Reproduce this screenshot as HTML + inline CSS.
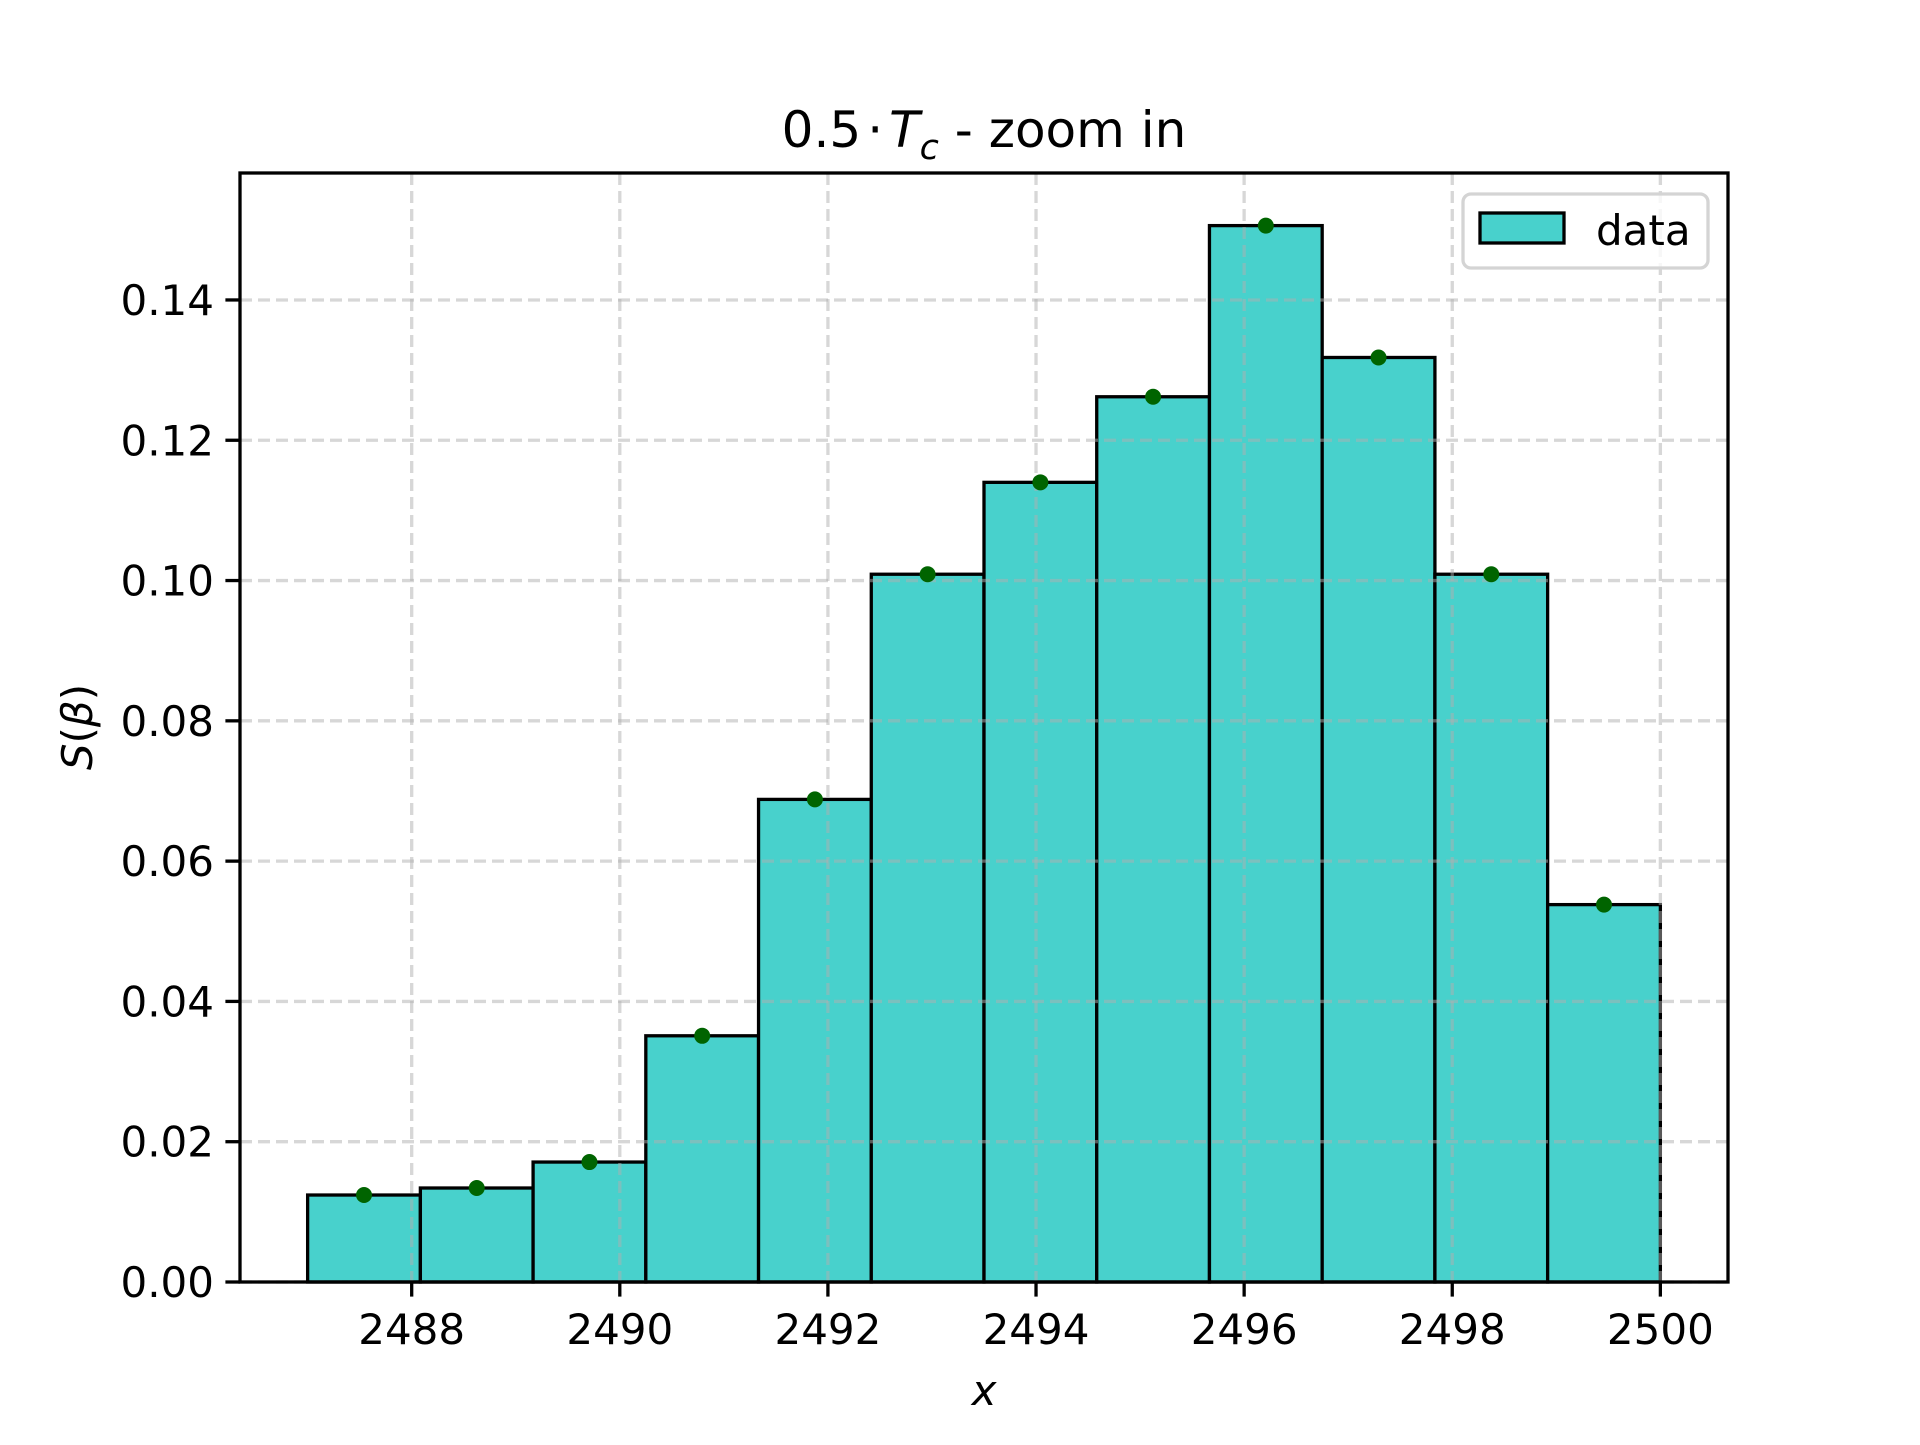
<!DOCTYPE html>
<html><head><meta charset="utf-8"><style>
html,body{margin:0;padding:0;background:#fff;}
svg text{font-family:"DejaVu Sans","Liberation Sans",sans-serif;}
</style></head><body>
<svg id="chart" width="1920" height="1440" viewBox="0 0 1920 1440" xmlns="http://www.w3.org/2000/svg">
<rect width="1920" height="1440" fill="#fff"/>
<g id="bars"></g>
<g id="grid"></g>
<g id="dots"></g>
<g id="axes"></g>
<text x="984" y="147" font-size="50" text-anchor="middle">0.5<tspan dx="6">·</tspan><tspan dx="6" font-style="italic">T</tspan><tspan font-style="italic" font-size="35" dy="12">c</tspan><tspan dy="-12"> - zoom in</tspan></text>
<text x="984" y="1405" font-size="42" font-style="italic" text-anchor="middle">x</text>
<text transform="translate(92,727) rotate(-90)" font-size="42" text-anchor="middle"><tspan font-style="italic">S</tspan>(<tspan font-style="italic">β</tspan>)</text>
<g>
<rect x="1463" y="194" width="245" height="74" rx="8" fill="#fff" fill-opacity="0.8" stroke="#d4d4d4" stroke-width="3.3"/>
<rect x="1480" y="213" width="84" height="30" fill="#48d1cc" stroke="#000" stroke-width="3.3"/>
<text x="1596" y="245" font-size="42">data</text>
</g>
</svg>
<script>
const binEdgeStart = 2487.0;
const binEdgeEnd = 2500.0;
const values = [0.0124, 0.0134, 0.0171, 0.0351, 0.0688, 0.1009, 0.1140, 0.1262, 0.1506, 0.1318, 0.1009, 0.0538];
const xTicks = [2488, 2490, 2492, 2494, 2496, 2498, 2500];
const yTicks = [0.00, 0.02, 0.04, 0.06, 0.08, 0.10, 0.12, 0.14];
const xMin = 2486.35, xMax = 2500.65, yMin = 0, yMax = 0.1581;
const L = 240, R = 1728, T = 173, B = 1282;
const NS = 'http://www.w3.org/2000/svg';
function sx(v){return L + (v - xMin) / (xMax - xMin) * (R - L);}
function sy(v){return B - (v - yMin) / (yMax - yMin) * (B - T);}
function mk(tag, attrs, parent){const e=document.createElementNS(NS,tag);for(const k in attrs)e.setAttribute(k,attrs[k]);parent.appendChild(e);return e;}
const bars=document.getElementById('bars'),grid=document.getElementById('grid'),dots=document.getElementById('dots'),axes=document.getElementById('axes');
const w=(binEdgeEnd-binEdgeStart)/values.length;
values.forEach((v,i)=>{
  const x0=sx(binEdgeStart+i*w), x1=sx(binEdgeStart+(i+1)*w);
  const r=mk('rect',{x:x0,y:sy(v),width:x1-x0,height:sy(0)-sy(v),fill:'#48d1cc',stroke:'#000','stroke-width':3.3},bars);
  
  
  const c=mk('circle',{cx:sx(binEdgeStart+(i+0.5)*w),cy:sy(v),r:8,fill:'#006400'},dots);
  
  
});
xTicks.forEach(t=>{
  const x=sx(t);
  const g=mk('line',{x1:x,x2:x,y1:T,y2:B,stroke:'#b0b0b0','stroke-opacity':0.5,'stroke-width':3.3,'stroke-dasharray':'12 6'},grid);
  
  
  const tk=mk('line',{x1:x,x2:x,y1:B,y2:B+14.6,stroke:'#000','stroke-width':3.3},axes);
  
  
  const tx=mk('text',{x:x,y:B+62,'font-size':42,'text-anchor':'middle'},axes);
  tx.textContent=t;
  
  
});
yTicks.forEach(t=>{
  const y=sy(t);
  const g=mk('line',{x1:L,x2:R,y1:y,y2:y,stroke:'#b0b0b0','stroke-opacity':0.5,'stroke-width':3.3,'stroke-dasharray':'12 6'},grid);
  
  
  const tk=mk('line',{x1:L-14.6,x2:L,y1:y,y2:y,stroke:'#000','stroke-width':3.3},axes);
  
  
  const tx=mk('text',{x:L-26,y:y+15,'font-size':42,'text-anchor':'end'},axes);
  tx.textContent=t.toFixed(2);
  
  
});
const fr=mk('rect',{x:L,y:T,width:R-L,height:B-T,fill:'none',stroke:'#000','stroke-width':3.3},axes);


</script>
</body></html>
